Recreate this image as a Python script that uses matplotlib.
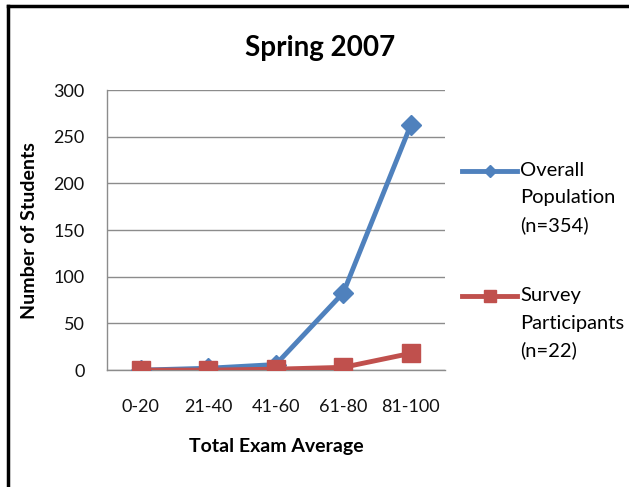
import matplotlib
matplotlib.use("Agg")
import matplotlib.pyplot as plt
from matplotlib.lines import Line2D

plt.rcParams['font.family'] = ['Lato', 'DejaVu Sans']

categories = ["0-20", "21-40", "41-60", "61-80", "81-100"]
overall = [0, 2, 6, 83, 263]
survey = [0, 0, 1, 3, 18]
yticks = [0, 50, 100, 150, 200, 250, 300]

blue = "#4F81BD"
red = "#C0504D"

fig = plt.figure(figsize=(6.29, 4.87), dpi=100)
ax = fig.add_axes([0.170, 0.240, 0.537, 0.575])

x = list(range(len(categories)))
ax.plot(x, overall, color=blue, lw=3.5, marker='D', markersize=10, zorder=3)
ax.plot(x, survey, color=red, lw=3.5, marker='s', markersize=13.5, zorder=4)

ax.set_xlim(-0.5, 4.5)
ax.set_ylim(0, 300)
ax.set_yticks(yticks)
ax.set_xticks(x)
ax.set_xticklabels(categories)
ax.tick_params(axis='both', length=0, labelsize=13, labelcolor='#111111')
ax.tick_params(axis='x', pad=21)
ax.tick_params(axis='y', pad=16)
ax.yaxis.grid(True, color='#8c8c8c', lw=1)
ax.set_axisbelow(True)
for s in ['top', 'right']:
    ax.spines[s].set_visible(False)
for s in ['left', 'bottom']:
    ax.spines[s].set_color('#8c8c8c')
    ax.spines[s].set_linewidth(1)

ax.set_xlabel("Total Exam Average", fontsize=14, fontweight='bold', labelpad=16)
ax.set_ylabel("Number of Students", fontsize=14, fontweight='bold')
ax.yaxis.set_label_coords(-(107 - 38) / 338, 0.5)
fig.text(320/629, 1 - 48/487, "Spring 2007", ha='center', va='center', fontsize=20, fontweight='bold')

# legend drawn manually
def leg(y_line, color, marker, ms, lines):
    fig.add_artist(Line2D([462/629, 517/629], [1 - y_line/487] * 2, color=color, lw=3.5,
                          transform=fig.transFigure))
    fig.add_artist(Line2D([489.5/629], [1 - y_line/487], color=color, marker=marker,
                          markersize=ms, lw=0, transform=fig.transFigure))
    for i, t in enumerate(lines):
        fig.text(520/629, 1 - (y_line + i * 27)/487, t, ha='left', va='center', fontsize=14.5)

leg(171, blue, 'D', 6, ["Overall", "Population", "(n=354)"])
leg(296, red, 's', 8, ["Survey", "Participants", "(n=22)"])

# border (top and left)
fig.add_artist(Line2D([8/629, 8/629], [0, 1 - 6/487], color='black', lw=2.5, transform=fig.transFigure))
fig.add_artist(Line2D([8/629, 1], [1 - 6/487, 1 - 6/487], color='black', lw=2.5, transform=fig.transFigure))

fig.savefig("out.png", dpi=100)
